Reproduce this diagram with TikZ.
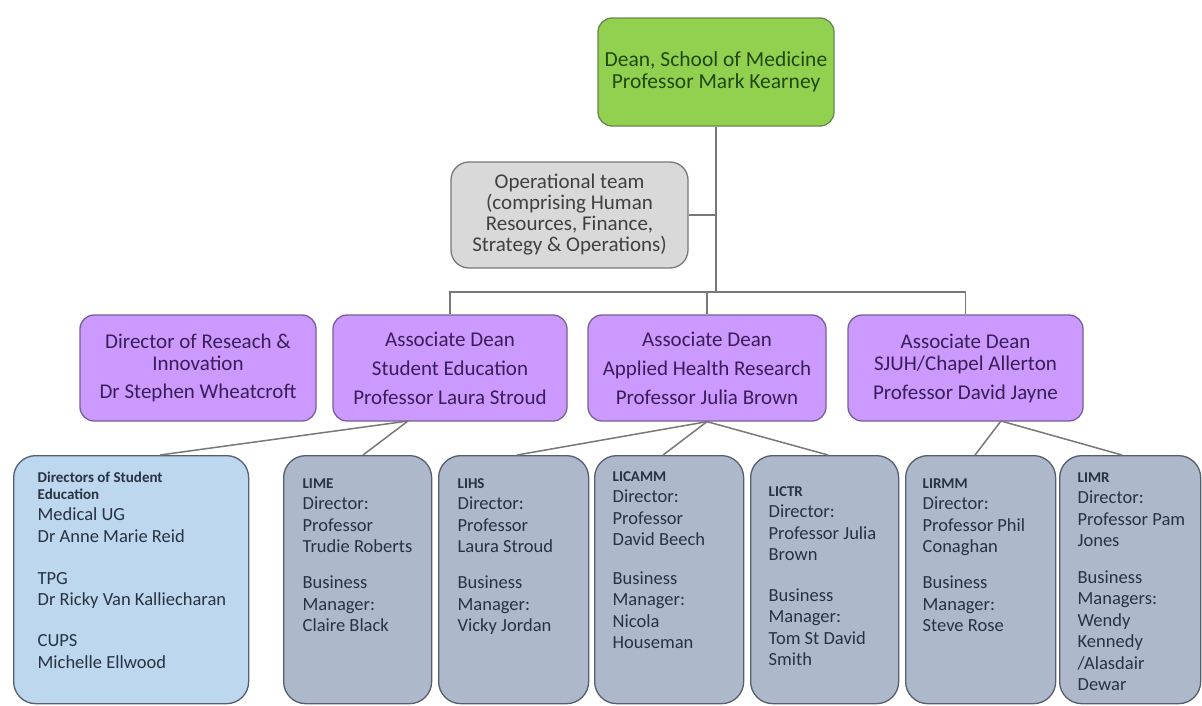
\documentclass[tikz,border=0pt]{standalone}
\usepackage{fontspec}
\setmainfont{Carlito}
\definecolor{deanfill}{RGB}{146,208,80}
\definecolor{deanline}{RGB}{105,135,75}
\definecolor{deantext}{RGB}{32,72,16}
\definecolor{opsfill}{RGB}{217,217,217}
\definecolor{opsline}{RGB}{120,120,120}
\definecolor{opstext}{RGB}{64,64,64}
\definecolor{rolefill}{RGB}{204,153,255}
\definecolor{roleline}{RGB}{120,95,150}
\definecolor{roletext}{RGB}{58,30,88}
\definecolor{dsefill}{RGB}{189,215,238}
\definecolor{unitfill}{RGB}{173,185,202}
\definecolor{unitline}{RGB}{85,95,110}
\definecolor{unittext}{RGB}{40,50,65}
\definecolor{connline}{RGB}{120,120,120}
\newcommand{\unitbox}[4]{\parbox[t][248pt][t]{#1}{\vspace*{#2}\raggedright\leftskip=#3\relax #4}}
\newcommand{\unithead}[1]{{\bfseries\fontsize{15}{17}\selectfont #1}}

\begin{document}
\begin{tikzpicture}[x=1pt, y=-1pt,
  box/.style={draw, line width=1.3pt, align=center, inner sep=0pt},
  role/.style={box, draw=roleline, fill=rolefill, text=roletext, rounded corners=14pt,
    minimum height=106pt, font=\fontsize{21}{22}\selectfont},
  unit/.style={draw=unitline, fill=unitfill, text=unittext, line width=1.3pt, inner sep=0pt,
    rounded corners=22pt, anchor=north west, font=\fontsize{18.5}{21.5}\selectfont},
  conn/.style={draw=connline, line width=1.5pt}]
\useasboundingbox (0,0) rectangle (1202,705);

% top of the school
\node[box, draw=deanline, fill=deanfill, text=deantext, rounded corners=14pt,
  minimum width=236pt, minimum height=108pt, font=\fontsize{21.5}{22}\selectfont]
  (dean) at (716,72) {Dean, School of Medicine\\Professor Mark Kearney};
\node[box, draw=opsline, fill=opsfill, text=opstext, rounded corners=18pt,
  minimum width=237pt, minimum height=106pt, font=\fontsize{21}{21}\selectfont]
  (ops) at (569.5,215) {Operational team\\(comprising Human\\Resources, Finance,\\Strategy \& Operations)};

% directors and associate deans
\node[role, minimum width=236pt] (rid) at (198,368) {Director of Reseach \&\\Innovation\\[6pt]Dr Stephen Wheatcroft};
\node[role, minimum width=234pt] (adse) at (450,368) {Associate Dean\\[7pt]Student Education\\[7pt]Professor Laura Stroud};
\node[role, minimum width=238pt] (adahr) at (707,368) {Associate Dean\\[7pt]Applied Health Research\\[7pt]Professor Julia Brown};
\node[role, minimum width=235pt] (adsjuh) at (965.5,368) {Associate Dean\\SJUH/Chapel Allerton\\[7pt]Professor David Jayne};

% institutes
\node[unit, fill=dsefill] (dse) at (13,455) {\unitbox{235pt}{16pt}{24pt}{\unithead{Directors of Student}\\[-4.5pt]\unithead{Education}\\Medical UG\\Dr Anne Marie Reid\\[20.5pt]TPG\\Dr Ricky Van Kalliecharan\\[19.5pt]CUPS\\Michelle Ellwood}};
\node[unit] (lime) at (283,455) {\unitbox{148pt}{23pt}{19pt}{\unithead{LIME}\\Director:\\Professor\\Trudie Roberts\\[14.5pt]Business\\Manager:\\Claire Black}};
\node[unit] (lihs) at (438,455) {\unitbox{150pt}{23pt}{19pt}{\unithead{LIHS}\\Director:\\Professor\\Laura Stroud\\[14.5pt]Business\\Manager:\\Vicky Jordan}};
\node[unit] (licamm) at (594,455) {\unitbox{149pt}{16pt}{18pt}{\unithead{LICAMM}\\Director:\\Professor\\David Beech\\[17pt]Business\\Manager:\\Nicola\\Houseman}};
\node[unit] (lictr) at (750,455) {\unitbox{148pt}{31pt}{18pt}{\unithead{LICTR}\\Director:\\Professor Julia\\Brown\\[19pt]Business\\Manager:\\Tom St David\\Smith}};
\node[unit] (lirmm) at (905,455) {\unitbox{150pt}{23pt}{17pt}{\unithead{LIRMM}\\Director:\\Professor Phil\\Conaghan\\[14.5pt]Business\\Manager:\\Steve Rose}};
\node[unit] (limr) at (1059,455) {\unitbox{141pt}{17pt}{18pt}{\unithead{LIMR}\\Director:\\Professor Pam\\Jones\\[15pt]Business\\Managers:\\Wendy\\Kennedy\\/Alasdair\\Dewar}};

% connectors
\coordinate (hub) at (716,292);
\coordinate (sefork) at (408,421);
\coordinate (sjfork) at (1001,421);
\draw[conn] (dean.south) -- (hub);
\draw[conn] (ops.east) -- (ops.east -| hub);
\draw[conn] (adse.north) |- (hub) -| (adsjuh.north);
\draw[conn] (adahr.north) -- (adahr.north |- hub);
\draw[conn] (sefork) -- (dse.north -| 160,0);
\draw[conn] (sefork) -- (lime.north -| 363,0);
\draw[conn] (adahr.south) -- (lihs.north -| 517,0);
\draw[conn] (adahr.south) -- (licamm.north -| 663,0);
\draw[conn] (adahr.south) -- (lictr.north -| 828,0);
\draw[conn] (sjfork) -- (lirmm.north -| 975,0);
\draw[conn] (sjfork) -- (limr.north -| 1122,0);
\end{tikzpicture}
\end{document}
